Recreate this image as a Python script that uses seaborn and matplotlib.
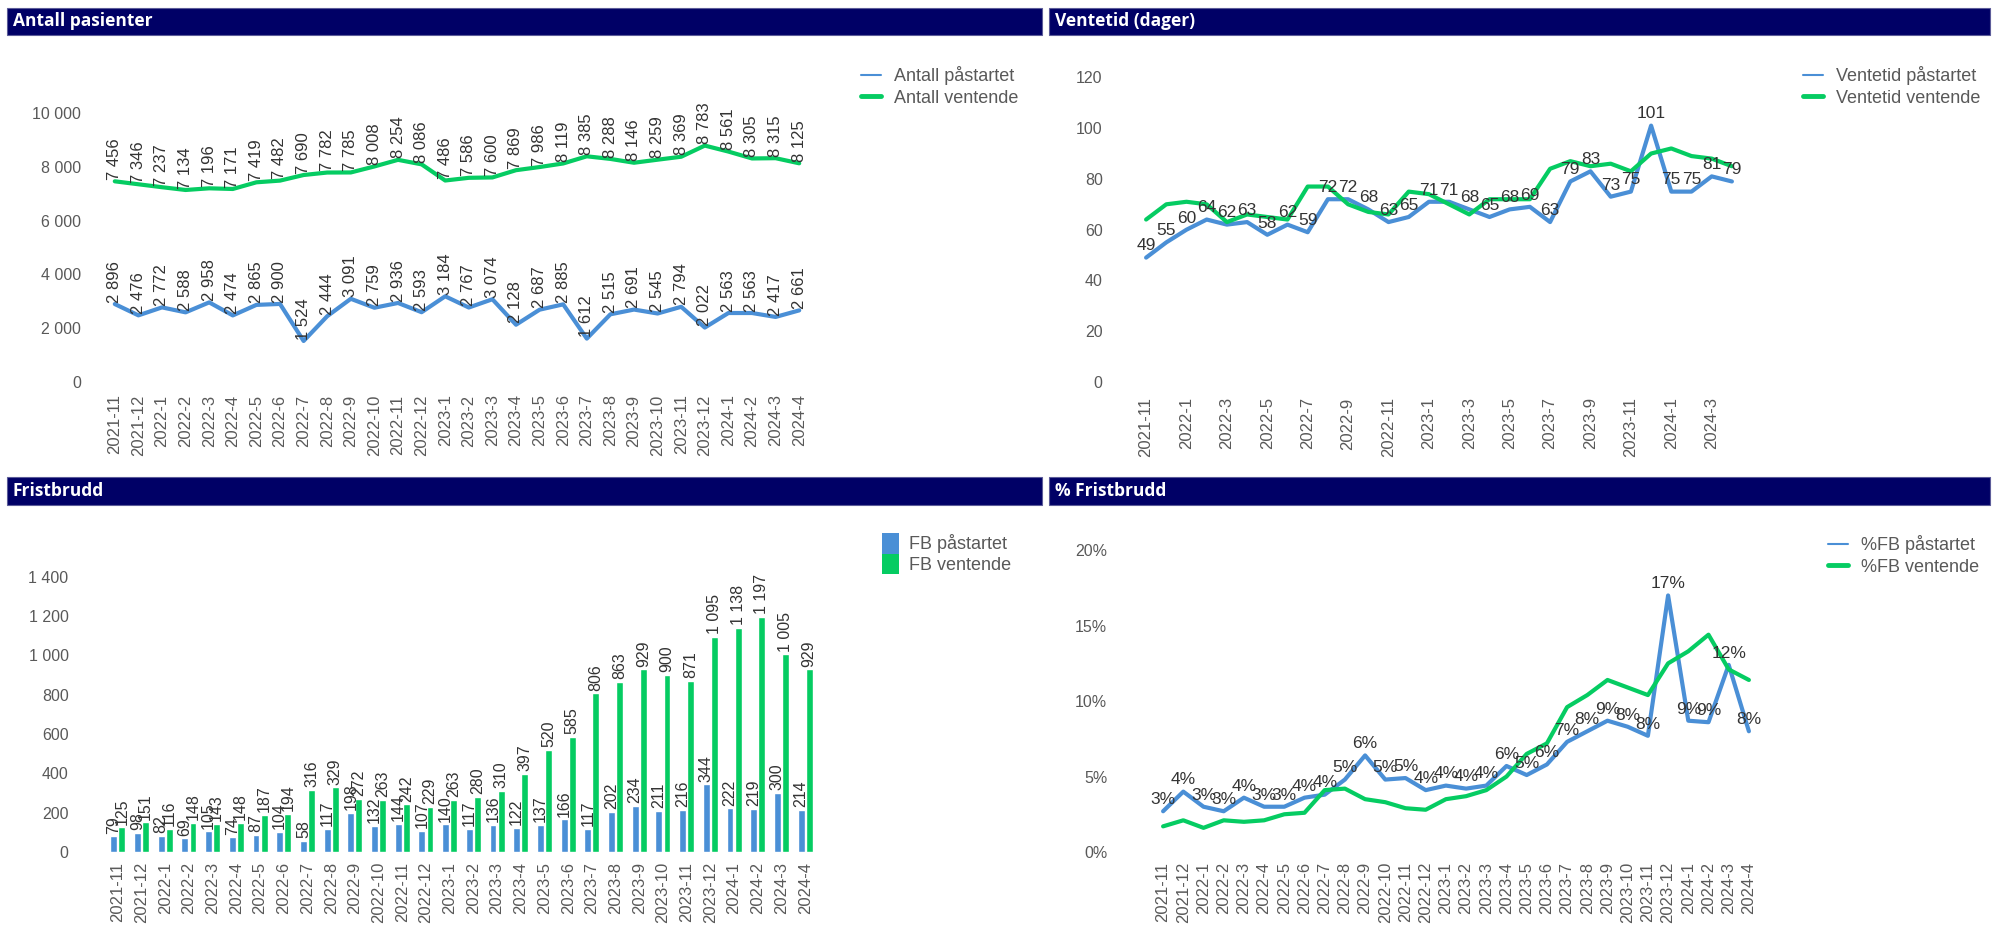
import numpy as np
import pandas as pd
import matplotlib
matplotlib.use("Agg")
import matplotlib.pyplot as plt
import seaborn as sns
from matplotlib.patches import Rectangle, Patch
from matplotlib.lines import Line2D
from matplotlib.ticker import FuncFormatter, FixedLocator

# ---------------- data ----------------
months = ["2021-11", "2021-12",
          "2022-1", "2022-2", "2022-3", "2022-4", "2022-5", "2022-6",
          "2022-7", "2022-8", "2022-9", "2022-10", "2022-11", "2022-12",
          "2023-1", "2023-2", "2023-3", "2023-4", "2023-5", "2023-6",
          "2023-7", "2023-8", "2023-9", "2023-10", "2023-11", "2023-12",
          "2024-1", "2024-2", "2024-3", "2024-4"]

antall_pastartet = [2896, 2476, 2772, 2588, 2958, 2474, 2865, 2900, 1524, 2444,
                    3091, 2759, 2936, 2593, 3184, 2767, 3074, 2128, 2687, 2885,
                    1612, 2515, 2691, 2545, 2794, 2022, 2563, 2563, 2417, 2661]
antall_ventende = [7456, 7346, 7237, 7134, 7196, 7171, 7419, 7482, 7690, 7782,
                   7785, 8008, 8254, 8086, 7486, 7586, 7600, 7869, 7986, 8119,
                   8385, 8288, 8146, 8259, 8369, 8783, 8561, 8305, 8315, 8125]

ventetid_pastartet = [49, 55, 60, 64, 62, 63, 58, 62, 59, 72,
                      72, 68, 63, 65, 71, 71, 68, 65, 68, 69,
                      63, 79, 83, 73, 75, 101, 75, 75, 81, 79]
ventetid_ventende = [64, 70, 71, 70, 63, 66, 65, 64, 77, 77,
                     70, 67, 66, 75, 74, 70, 66, 72, 72, 72,
                     84, 87, 85, 86, 83, 90, 92, 89, 88, 85]

fb_pastartet = [79, 98, 82, 69, 105, 74, 87, 104, 58, 117,
                198, 132, 144, 107, 140, 117, 136, 122, 137, 166,
                117, 202, 234, 211, 216, 344, 222, 219, 300, 214]
fb_ventende = [125, 151, 116, 148, 143, 148, 187, 194, 316, 329,
               272, 263, 242, 229, 263, 280, 310, 397, 520, 585,
               806, 863, 929, 900, 871, 1095, 1138, 1197, 1005, 929]

pct_pastartet = [2.7, 4.0, 3.0, 2.7, 3.6, 3.0, 3.0, 3.6, 3.8, 4.8,
                 6.4, 4.8, 4.9, 4.1, 4.4, 4.2, 4.4, 5.7, 5.1, 5.8,
                 7.3, 8.0, 8.7, 8.3, 7.7, 17.0, 8.7, 8.6, 12.4, 8.0]
pct_ventende = [1.7, 2.1, 1.6, 2.1, 2.0, 2.1, 2.5, 2.6, 4.1, 4.2,
                3.5, 3.3, 2.9, 2.8, 3.5, 3.7, 4.1, 5.0, 6.5, 7.2,
                9.6, 10.4, 11.4, 10.9, 10.4, 12.5, 13.3, 14.4, 12.1, 11.4]

titles = ["Antall pasienter", "Ventetid (dager)", "Fristbrudd", "% Fristbrudd"]
legend_antall = ["Antall påstartet", "Antall ventende"]
legend_ventetid = ["Ventetid påstartet", "Ventetid ventende"]
legend_fb = ["FB påstartet", "FB ventende"]
legend_pct = ["%FB påstartet", "%FB ventende"]

# ---------------- style ----------------
sns.set_style("white")
plt.rcParams["font.family"] = ["Liberation Sans", "DejaVu Sans"]

BLUE = "#4a8fd6"
GREEN = "#05cc62"
NAVY = "#000066"
TICK = "#595959"
LABEL = "#333333"

W, H = 1992, 927
fig = plt.figure(figsize=(W / 100, H / 100), dpi=100)


def rect(x0, y0, x1, y1):
    return [x0 / W, 1 - y1 / H, (x1 - x0) / W, (y1 - y0) / H]


def header(x0, y0, x1, y1, text):
    fig.add_artist(Rectangle((x0 / W, 1 - y1 / H), (x1 - x0) / W, (y1 - y0) / H,
                             transform=fig.transFigure, facecolor=NAVY,
                             edgecolor="#5c5c99", linewidth=0.8))
    fig.text((x0 + 6) / W, 1 - ((y0 + y1) / 2) / H, text, color="white",
             fontsize=12.5, fontweight="bold", va="center", ha="left",
             family=["Open Sans", "DejaVu Sans"])


def style_axes(ax, ypad, xpad, xfs=12):
    sns.despine(ax=ax, left=True, bottom=True)
    ax.grid(False)
    ax.tick_params(axis="y", length=3, width=1, color="#d9d9d9",
                   labelcolor=TICK, labelsize=11.5, pad=ypad)
    ax.tick_params(axis="x", length=0, labelcolor=TICK, labelsize=xfs, pad=xpad)
    ax.set_xlabel("")
    ax.set_ylabel("")
    ax.set_xlim(-0.5, len(months) - 0.5)


space_fmt = FuncFormatter(lambda v, p: f"{int(round(v)):,}".replace(",", " "))
x = np.arange(len(months))

# ---------------- headers ----------------
header(7, 8, 1042, 35, titles[0])
header(1049, 8, 1990, 35, titles[1])
header(7, 477, 1042, 505, titles[2])
header(1049, 477, 1990, 505, titles[3])

# ---------------- Antall pasienter ----------------
ax1 = fig.add_axes(rect(103, 59, 811, 382))
sns.lineplot(x=x, y=antall_pastartet, ax=ax1, color=BLUE, linewidth=3)
sns.lineplot(x=x, y=antall_ventende, ax=ax1, color=GREEN, linewidth=3)
ax1.set_ylim(0, 12000)
ax1.yaxis.set_major_locator(FixedLocator([0, 2000, 4000, 6000, 8000, 10000]))
ax1.yaxis.set_major_formatter(space_fmt)
ax1.set_xticks(x)
ax1.set_xticklabels(months, rotation=90)
style_axes(ax1, ypad=13, xpad=9)
for series in (antall_pastartet, antall_ventende):
    for xi, v in zip(x, series):
        ax1.annotate(f"{v:,}".replace(",", " "), (xi, v), xytext=(0, 1),
                     textcoords="offset points", rotation=90, ha="center",
                     va="bottom", fontsize=12, color=LABEL)
fig.legend(handles=[Line2D([], [], color=BLUE, lw=1.5),
                    Line2D([], [], color=GREEN, lw=3.5)],
           labels=legend_antall, loc="upper left",
           bbox_to_anchor=(845 / W, 1 - 50 / H), frameon=False, fontsize=13,
           handlelength=1.1, handletextpad=0.7, labelspacing=0.25,
           labelcolor=TICK)

# ---------------- Ventetid ----------------
ax2 = fig.add_axes(rect(1136, 52, 1742, 382))
sns.lineplot(x=x, y=ventetid_pastartet, ax=ax2, color=BLUE, linewidth=3)
sns.lineplot(x=x, y=ventetid_ventende, ax=ax2, color=GREEN, linewidth=3)
ax2.set_ylim(0, 130)
ax2.yaxis.set_major_locator(FixedLocator([0, 20, 40, 60, 80, 100, 120]))
ax2.set_xticks(x[::2])
ax2.set_xticklabels(months[::2], rotation=90)
style_axes(ax2, ypad=21, xpad=11)
for xi, v in zip(x, ventetid_pastartet):
    ax2.annotate(f"{v}", (xi, v), xytext=(0, 3), textcoords="offset points",
                 ha="center", va="bottom", fontsize=12.5, color=LABEL)
fig.legend(handles=[Line2D([], [], color=BLUE, lw=1.5),
                    Line2D([], [], color=GREEN, lw=3.5)],
           labels=legend_ventetid, loc="upper left",
           bbox_to_anchor=(1787 / W, 1 - 50 / H), frameon=False, fontsize=13,
           handlelength=1.1, handletextpad=0.7, labelspacing=0.25,
           labelcolor=TICK)

# ---------------- Fristbrudd (bars) ----------------
ax3 = fig.add_axes(rect(106, 557, 817, 852))
df_fb = pd.DataFrame({
    "Måned": months * 2,
    "Antall": fb_pastartet + fb_ventende,
    "Serie": [legend_fb[0]] * len(months) + [legend_fb[1]] * len(months),
})
sns.barplot(data=df_fb, x="Måned", y="Antall", hue="Serie", order=months,
            hue_order=legend_fb, palette=[BLUE, GREEN], saturation=1,
            width=0.68, gap=0.14, errorbar=None, legend=False, ax=ax3)
ax3.set_ylim(0, 1500)
ax3.yaxis.set_major_locator(FixedLocator([0, 200, 400, 600, 800, 1000, 1200, 1400]))
ax3.yaxis.set_major_formatter(space_fmt)
ax3.set_xticks(x)
ax3.set_xticklabels(months, rotation=90)
style_axes(ax3, ypad=24, xpad=7)
for cont, series in zip(ax3.containers, (fb_pastartet, fb_ventende)):
    ax3.bar_label(cont, labels=[f"{v:,}".replace(",", " ") for v in series],
                  rotation=90, padding=2, fontsize=11.5, color=LABEL)
fig.legend(handles=[Patch(facecolor=BLUE, edgecolor="none"),
                    Patch(facecolor=GREEN, edgecolor="none")],
           labels=legend_fb, loc="upper left",
           bbox_to_anchor=(866 / W, 1 - 517 / H), frameon=False, fontsize=13,
           handlelength=0.9, handleheight=1.35, handletextpad=0.6,
           labelspacing=0.0, labelcolor=TICK)

# ---------------- % Fristbrudd ----------------
ax4 = fig.add_axes(rect(1153, 520, 1759, 852))
sns.lineplot(x=x, y=pct_pastartet, ax=ax4, color=BLUE, linewidth=3)
sns.lineplot(x=x, y=pct_ventende, ax=ax4, color=GREEN, linewidth=3)
ax4.set_ylim(0, 22)
ax4.yaxis.set_major_locator(FixedLocator([0, 5, 10, 15, 20]))
ax4.yaxis.set_major_formatter(FuncFormatter(lambda v, p: f"{v:.0f}%"))
ax4.set_xticks(x)
ax4.set_xticklabels(months, rotation=90)
style_axes(ax4, ypad=30, xpad=7)
for xi, v in zip(x, pct_pastartet):
    ax4.annotate(f"{v:.0f}%", (xi, v), xytext=(0, 3), textcoords="offset points",
                 ha="center", va="bottom", fontsize=12.5, color=LABEL)
fig.legend(handles=[Line2D([], [], color=BLUE, lw=1.5),
                    Line2D([], [], color=GREEN, lw=3.5)],
           labels=legend_pct, loc="upper left",
           bbox_to_anchor=(1812 / W, 1 - 519 / H), frameon=False, fontsize=13,
           handlelength=1.1, handletextpad=0.7, labelspacing=0.25,
           labelcolor=TICK)

fig.savefig("out.png", dpi=100, facecolor="white")
